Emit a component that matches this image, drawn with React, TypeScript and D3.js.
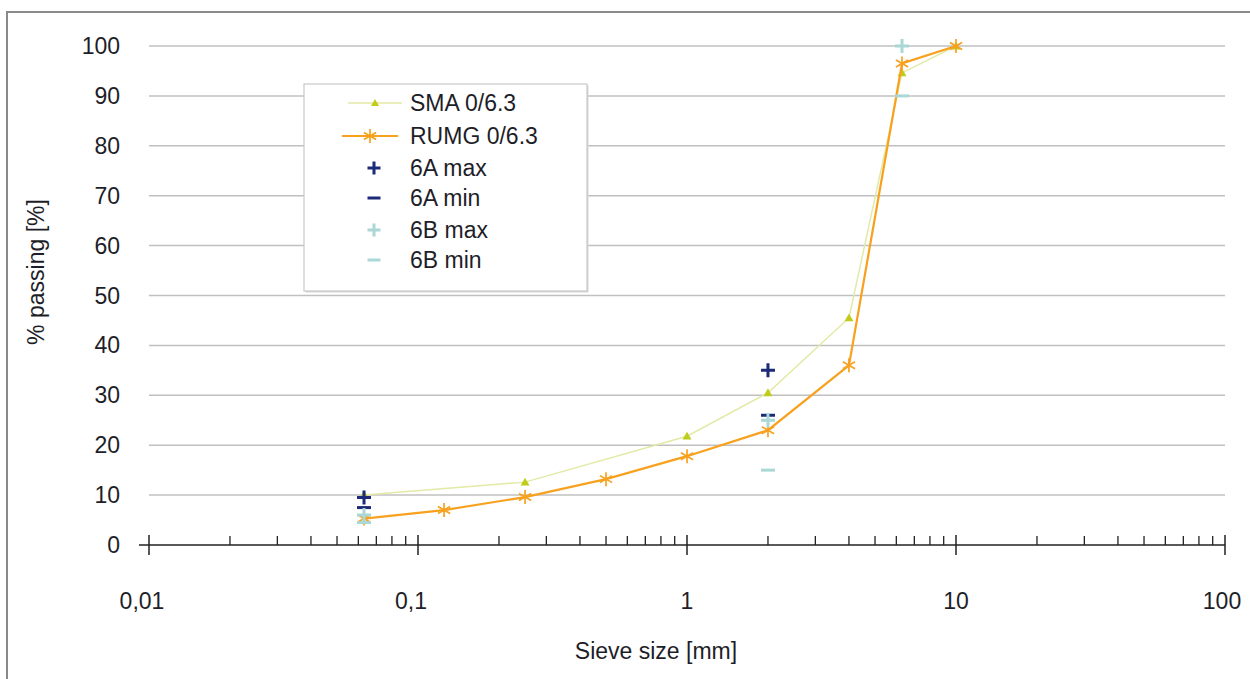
import React from "react";
import * as d3 from "d3";

const sieves = [0.063, 0.125, 0.25, 0.5, 1, 2, 4, 6.3, 10];
const smaSieves = [0.063, 0.25, 1, 2, 4, 6.3, 10];
const smaValues = [10, 12.6, 21.8, 30.5, 45.5, 94.6, 100];
const rumgValues = [5.3, 7, 9.6, 13.2, 17.8, 23, 36, 96.5, 100];
const a6MaxSieves = [0.063, 2];
const a6MaxValues = [9.5, 35];
const a6MinSieves = [0.063, 2];
const a6MinValues = [7.5, 26];
const b6MaxSieves = [0.063, 2, 6.3];
const b6MaxValues = [6, 25, 100];
const b6MinSieves = [0.063, 2, 6.3];
const b6MinValues = [4.5, 15, 90];
const xTickValues = [0.01, 0.1, 1, 10, 100];
const xTickLabels = ["0,01", "0,1", "1", "10", "100"];
const yTickValues = [0, 10, 20, 30, 40, 50, 60, 70, 80, 90, 100];
const legendLabels = ["SMA 0/6.3", "RUMG 0/6.3", "6A max", "6A min", "6B max", "6B min"];

const FONT = "'Liberation Sans', Arial, sans-serif";
const FS = 23;
const C_SMA_LINE = "#e3e9a6";
const C_SMA_MARK = "#bfcc1a";
const C_RUMG = "#f7a11e";
const C_6A = "#1c2a78";
const C_6B = "#a9d8d6";
const TEXT = "#1e1e28";
const LABEL_SHIFT = [-7, -7, 0, 0, -3];

const x = d3.scaleLog().domain([0.01, 100]).range([149, 1225]);
const y = d3.scaleLinear().domain([0, 100]).range([545, 46]);

function Tri({ cx, cy, s = 4.5, color }: { cx: number; cy: number; s?: number; color: string }) {
  return <path d={`M${cx},${cy - s}L${cx + s},${cy + s * 0.75}L${cx - s},${cy + s * 0.75}Z`} fill={color} />;
}
function Star({ cx, cy, r = 7, color }: { cx: number; cy: number; r?: number; color: string }) {
  const a = r * 0.87;
  const b = r * 0.5;
  return (
    <path
      d={`M${cx},${cy - r}L${cx},${cy + r}M${cx - a},${cy - b}L${cx + a},${cy + b}M${cx - a},${cy + b}L${cx + a},${cy - b}`}
      stroke={color}
      strokeWidth={1.7}
      fill="none"
    />
  );
}
function Plus({ cx, cy, r = 7, color }: { cx: number; cy: number; r?: number; color: string }) {
  return <path d={`M${cx - r},${cy}L${cx + r},${cy}M${cx},${cy - r}L${cx},${cy + r}`} stroke={color} strokeWidth={3} />;
}
function Minus({ cx, cy, r = 7, color }: { cx: number; cy: number; r?: number; color: string }) {
  return <path d={`M${cx - r},${cy}L${cx + r},${cy}`} stroke={color} strokeWidth={3} />;
}

export default function App() {
  const line = d3
    .line<[number, number]>()
    .x((d) => x(d[0]))
    .y((d) => y(d[1]));
  const smaPts: [number, number][] = smaSieves.map((s, i) => [s, smaValues[i]]);
  const rumgPts: [number, number][] = sieves.map((s, i) => [s, rumgValues[i]]);

  const minorTicks: number[] = [];
  for (let e = -2; e < 2; e++) {
    for (let k = 2; k <= 9; k++) minorTicks.push(k * Math.pow(10, e));
  }

  const legX = 304;
  const legY = 84;
  const rowY = [103, 136, 168, 198, 230, 260];

  return (
    <svg width={1250} height={679} style={{ position: "absolute", left: 0, top: 0 }} fontFamily={FONT}>
      <rect x={0} y={0} width={1250} height={679} fill="#fff" />
      <path d="M7,700L7,12L1260,12" stroke="#8a8a8a" strokeWidth={2} fill="none" />

      {yTickValues.filter((v) => v > 0).map((v) => (
        <line key={v} x1={149} x2={1225} y1={y(v)} y2={y(v)} stroke="#c0c0c0" strokeWidth={1.5} />
      ))}
      {yTickValues.map((v) => (
        <text key={v} x={120} y={y(v)} dy="0.35em" textAnchor="end" fontSize={FS} fill={TEXT}>
          {v}
        </text>
      ))}

      <line x1={139} x2={1225} y1={545} y2={545} stroke="#222" strokeWidth={1.5} />
      {minorTicks.map((t, i) => (
        <line key={i} x1={x(t)} x2={x(t)} y1={545} y2={536} stroke="#222" strokeWidth={1.3} />
      ))}
      {xTickValues.map((t, i) => (
        <g key={t}>
          <line x1={x(t)} x2={x(t)} y1={535} y2={555} stroke="#222" strokeWidth={1.5} />
          <text x={x(t) + LABEL_SHIFT[i]} y={601} dy="0.35em" textAnchor="middle" fontSize={FS} fill={TEXT}>
            {xTickLabels[i]}
          </text>
        </g>
      ))}

      <text x={656} y={651} dy="0.35em" textAnchor="middle" fontSize={FS} fill={TEXT}>
        Sieve size [mm]
      </text>
      <text transform="translate(36,272) rotate(-90)" dy="0.35em" textAnchor="middle" fontSize={FS} fill={TEXT}>
        % passing [%]
      </text>

      <path d={line(smaPts) || ""} stroke={C_SMA_LINE} strokeWidth={1.5} fill="none" />
      {smaPts.map((p, i) => (
        <Tri key={i} cx={x(p[0])} cy={y(p[1])} color={C_SMA_MARK} />
      ))}
      <path d={line(rumgPts) || ""} stroke={C_RUMG} strokeWidth={2.2} fill="none" />
      {rumgPts.map((p, i) => (
        <Star key={i} cx={x(p[0])} cy={y(p[1])} color={C_RUMG} />
      ))}

      {a6MaxSieves.map((s, i) => (
        <Plus key={"am" + i} cx={x(s)} cy={y(a6MaxValues[i])} color={C_6A} />
      ))}
      {a6MinSieves.map((s, i) => (
        <Minus key={"an" + i} cx={x(s)} cy={y(a6MinValues[i])} color={C_6A} />
      ))}
      {b6MaxSieves.map((s, i) => (
        <Plus key={"bm" + i} cx={x(s)} cy={y(b6MaxValues[i])} color={C_6B} />
      ))}
      {b6MinSieves.map((s, i) => (
        <Minus key={"bn" + i} cx={x(s)} cy={y(b6MinValues[i])} color={C_6B} />
      ))}

      <rect x={legX + 1.5} y={legY + 1.5} width={283} height={207} fill="#d8d8d8" />
      <rect x={legX} y={legY} width={283} height={207} fill="#fff" stroke="#c8c8c8" strokeWidth={1.2} />
      <line x1={348} x2={402} y1={rowY[0]} y2={rowY[0]} stroke={C_SMA_LINE} strokeWidth={1.5} />
      <Tri cx={375} cy={rowY[0]} s={4} color={C_SMA_MARK} />
      <line x1={342} x2={398} y1={rowY[1]} y2={rowY[1]} stroke={C_RUMG} strokeWidth={2.2} />
      <Star cx={370} cy={rowY[1]} color={C_RUMG} />
      <Plus cx={374} cy={rowY[2]} r={6.5} color={C_6A} />
      <Minus cx={374} cy={rowY[3]} r={6.5} color={C_6A} />
      <Plus cx={374} cy={rowY[4]} r={6.5} color={C_6B} />
      <Minus cx={374} cy={rowY[5]} r={6.5} color={C_6B} />
      {legendLabels.map((l, i) => (
        <text key={l} x={410} y={rowY[i]} dy="0.35em" fontSize={FS} fill={TEXT}>
          {l}
        </text>
      ))}
    </svg>
  );
}
